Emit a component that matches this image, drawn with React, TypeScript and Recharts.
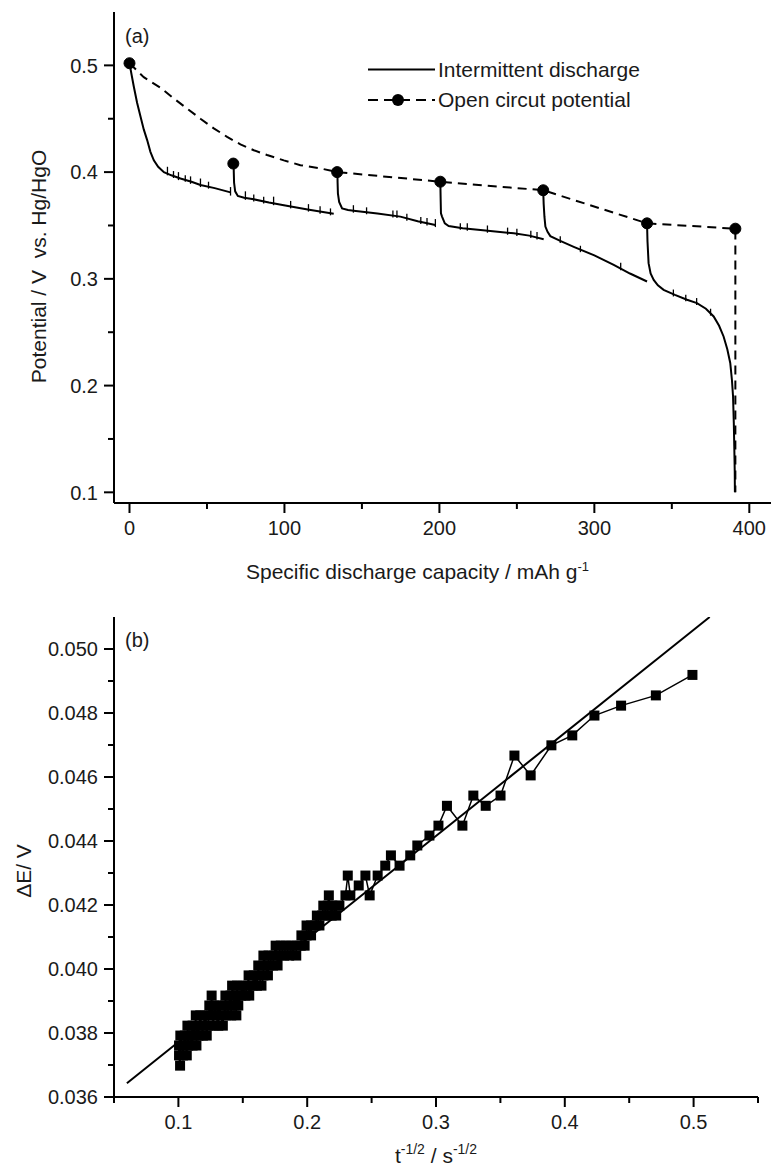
import React from 'react';
import { ComposedChart, Line, XAxis, YAxis, Label } from 'recharts';

const FONT = '"Liberation Sans", Arial, Helvetica, sans-serif';
const INK = '#1a1a1a';

// (a) intermittent discharge, [capacity mAh/g, potential V]
const dischargeSeg1 = [[0, 0.502], [1.5, 0.49], [2.8, 0.48], [4.9, 0.465], [7.1, 0.452], [9.2, 0.44], [11.4, 0.43], [13.5, 0.419], [15.7, 0.411], [18.5, 0.405], [22.2, 0.4], [27, 0.397], [32.9, 0.394], [40, 0.391], [45.8, 0.388], [55, 0.385], [65.2, 0.381]];
const dischargeSeg2 = [[67.2, 0.408], [67.3, 0.4], [67.5, 0.39], [68.2, 0.382], [69.9, 0.3776], [74, 0.376], [80.2, 0.3745], [90, 0.3715], [99.6, 0.369], [115, 0.365], [131.8, 0.361]];
const dischargeSeg3 = [[134.2, 0.4], [134.3, 0.39], [134.5, 0.38], [135.3, 0.372], [137.2, 0.366], [141, 0.3645], [144.7, 0.3638], [160, 0.3612], [174.8, 0.3583], [186, 0.354], [197.4, 0.3505]];
const dischargeSeg4 = [[200.6, 0.391], [200.8, 0.375], [201, 0.3614], [201.7, 0.3583], [203.5, 0.352], [206, 0.3495], [215, 0.3475], [226.5, 0.3458], [248, 0.3427], [258, 0.3405], [267.3, 0.3371]];
const dischargeSeg5 = [[267, 0.383], [267.3, 0.37], [267.8, 0.358], [268.4, 0.349], [269.8, 0.344], [271.6, 0.34], [278, 0.3355], [286.7, 0.33], [300, 0.322], [312.5, 0.313], [323, 0.305], [334, 0.2975]];
const dischargeSeg6 = [[334, 0.352], [334.3, 0.335], [335, 0.3147], [336.3, 0.305], [338.3, 0.299], [341, 0.294], [344.7, 0.2897], [352, 0.285], [359.8, 0.2804], [366.2, 0.2773], [372, 0.272], [377, 0.2648], [380.5, 0.256], [383.4, 0.246], [385.8, 0.234], [387.7, 0.2212], [388.8, 0.205], [389.5, 0.19], [390, 0.165], [390.3, 0.1433], [390.6, 0.12], [390.7, 0.1]];

// small noise spikes on the discharge trace: [capacity, low, high]
const dischargeSpikes = [
  [24.5, 0.397, 0.405], [28.4, 0.3945, 0.401], [31.6, 0.3925, 0.4], [36, 0.391, 0.397], [39.4, 0.389, 0.396],
  [45.8, 0.386, 0.394], [51, 0.3845, 0.391], [65.2, 0.378, 0.386],
  [74.8, 0.374, 0.382], [80.2, 0.3725, 0.379], [86.6, 0.3705, 0.377], [93, 0.369, 0.377], [104, 0.366, 0.373],
  [115.5, 0.363, 0.37], [123, 0.361, 0.368], [129.7, 0.3595, 0.366],
  [144.5, 0.362, 0.369], [153, 0.3605, 0.367], [170, 0.3575, 0.364], [172.6, 0.357, 0.364], [179, 0.3545, 0.361],
  [188, 0.3515, 0.358], [192, 0.35, 0.357], [197.4, 0.3485, 0.356],
  [213.5, 0.346, 0.352], [218, 0.345, 0.352], [231, 0.3432, 0.35], [244, 0.3413, 0.348], [250, 0.3402, 0.347],
  [259, 0.3382, 0.345], [263, 0.3368, 0.344],
  [278, 0.3335, 0.34], [291, 0.325, 0.331], [317, 0.308, 0.315],
  [351, 0.2835, 0.29], [359, 0.279, 0.285], [366, 0.2755, 0.282], [375, 0.2655, 0.272],
];

// open circuit potential markers and the dashed curve through them
const ocpPoints = [[0, 0.502], [67, 0.408], [134, 0.4], [200.6, 0.391], [267, 0.383], [334, 0.352], [391, 0.347]];
const ocpCurve = [[0, 0.502], [9.2, 0.489], [20, 0.479], [28.6, 0.469], [37.2, 0.4595], [45.8, 0.45], [54.4, 0.441], [63, 0.433], [71.6, 0.426], [80.2, 0.4205], [88.8, 0.416], [99.6, 0.411], [110.3, 0.4065], [123.2, 0.4035], [134, 0.4], [200.6, 0.391], [267, 0.383], [334, 0.352], [391, 0.347], [391, 0.1]];

const capTicks = [0, 50, 100, 150, 200, 250, 300, 350, 400];
const potTicks = [0.1, 0.15, 0.2, 0.25, 0.3, 0.35, 0.4, 0.45, 0.5];

// (b) dE vs t^-1/2 : y levels and the x positions read on each level
const dELevels = [0.03698, 0.0373, 0.03761, 0.03792, 0.03823, 0.03855, 0.03886, 0.03917, 0.03948, 0.0398, 0.04011, 0.04042, 0.04073, 0.04105, 0.04136, 0.04167, 0.04198, 0.0423, 0.04261, 0.04292, 0.04323, 0.04355, 0.04386, 0.04417, 0.04448, 0.0451, 0.04542, 0.04605, 0.04667, 0.04699, 0.0473, 0.04792, 0.04823, 0.04855, 0.04919];
const tLevelX = [
  [0.1013],
  [0.1005, 0.1035, 0.1065],
  [0.1005, 0.104, 0.1075, 0.111, 0.114],
  [0.1015, 0.105, 0.1085, 0.112, 0.1155, 0.119, 0.122],
  [0.107, 0.111, 0.115, 0.119, 0.123, 0.127, 0.131, 0.1345],
  [0.1135, 0.117, 0.121, 0.125, 0.129, 0.133, 0.137, 0.141, 0.145],
  [0.124, 0.128, 0.132, 0.136, 0.14, 0.1435, 0.1465],
  [0.1258, 0.1365, 0.1405, 0.1445, 0.1485, 0.152, 0.155],
  [0.1417, 0.1455, 0.1495, 0.1535, 0.1575, 0.161, 0.1645],
  [0.1545, 0.1585, 0.1625, 0.166, 0.1695],
  [0.162, 0.166, 0.17, 0.1735, 0.177],
  [0.166, 0.17, 0.174, 0.178, 0.182, 0.186, 0.1915],
  [0.1755, 0.1795, 0.1835, 0.1875, 0.1915, 0.195, 0.198],
  [0.1955, 0.1995, 0.203],
  [0.1995, 0.203, 0.2065, 0.2095],
  [0.2075, 0.2115, 0.2155, 0.219, 0.2225],
  [0.2125, 0.216, 0.2195, 0.2225, 0.225],
  [0.2168, 0.2297, 0.2335, 0.2485],
  [0.24],
  [0.2315, 0.2452, 0.2547],
  [0.2606, 0.2717],
  [0.265, 0.28],
  [0.2855],
  [0.2949],
  [0.3019, 0.3205],
  [0.3085, 0.3386],
  [0.329, 0.3501],
  [0.3735],
  [0.3609],
  [0.3896],
  [0.4058],
  [0.423],
  [0.4437],
  [0.4707],
  [0.4991],
];
const fitLine = [[0.06, 0.03643], [0.5125, 0.051]];

const tTicks = [0.05, 0.1, 0.15, 0.2, 0.25, 0.3, 0.35, 0.4, 0.45, 0.5, 0.55];
const dETicks = [0.036, 0.037, 0.038, 0.039, 0.04, 0.041, 0.042, 0.043, 0.044, 0.045, 0.046, 0.047, 0.048, 0.049, 0.05];

const rows = (pts: number[][], xk: string, yk: string) => pts.map(([a, b]) => ({ [xk]: a, [yk]: b }));

const gittRows = dELevels
  .flatMap((e, i) => tLevelX[i].map((t) => ({ t, e })))
  .sort((a, b) => a.t - b.t);

const onStep = (v: number, step: number) => Math.abs(v / step - Math.round(v / step)) < 1e-6;

const textStyle = { fontFamily: FONT, fill: INK };

function makeTick(side: 'left' | 'bottom', step: number, fmt: (v: number) => string) {
  return (props: any) => {
    const { x, y, payload } = props;
    const v = payload.value;
    const major = onStep(v, step);
    const len = major ? 10 : 6;
    if (side === 'left') {
      return (
        <g>
          <line x1={x - len} x2={x} y1={y} y2={y} stroke="#000" strokeWidth={2} />
          {major && (
            <text x={x - 16} y={y} dy="0.36em" textAnchor="end" fontSize={20} {...textStyle}>
              {fmt(v)}
            </text>
          )}
        </g>
      );
    }
    return (
      <g>
        <line x1={x} x2={x} y1={y} y2={y + len} stroke="#000" strokeWidth={2} />
        {major && (
          <text x={x} y={y + 32} textAnchor="middle" fontSize={20} {...textStyle}>
            {fmt(v)}
          </text>
        )}
      </g>
    );
  };
}

const SquareDot = (p: any) => (
  <rect key={`sq-${p.index}`} x={p.cx - 5} y={p.cy - 5} width={10} height={10} fill="#000" />
);

const AxisTitleA_X = (props: any) => {
  const { viewBox } = props;
  return (
    <text x={viewBox.x + viewBox.width / 2 - 25} y={viewBox.y + 76} textAnchor="middle" fontSize={21} {...textStyle}>
      Specific discharge capacity / mAh g
      <tspan dy={-8} fontSize={13}>-1</tspan>
    </text>
  );
};

const AxisTitleA_Y = (props: any) => {
  const { viewBox } = props;
  const cy = viewBox.y + viewBox.height / 2 + 9;
  return (
    <text x={46} y={cy} transform={`rotate(-90 46 ${cy})`} textAnchor="middle" fontSize={21} {...textStyle}>
      {'Potential / V\u00A0 vs. Hg/HgO'}
    </text>
  );
};

const AxisTitleB_X = (props: any) => {
  const { viewBox } = props;
  return (
    <text x={viewBox.x + viewBox.width / 2} y={viewBox.y + 66} textAnchor="middle" fontSize={21} {...textStyle}>
      t<tspan dy={-9} fontSize={14}>-1/2</tspan>
      <tspan dy={9}> / s</tspan>
      <tspan dy={-9} fontSize={14}>-1/2</tspan>
    </text>
  );
};

const AxisTitleB_Y = (props: any) => {
  const { viewBox } = props;
  const cy = viewBox.y + viewBox.height / 2 + 14;
  return (
    <text x={31} y={cy} transform={`rotate(-90 31 ${cy})`} textAnchor="middle" fontSize={21} {...textStyle}>
      ΔE/ V
    </text>
  );
};

const axisLine = { stroke: '#000', strokeWidth: 2 };

function PanelA() {
  const segs = [dischargeSeg1, dischargeSeg2, dischargeSeg3, dischargeSeg4, dischargeSeg5, dischargeSeg6];
  return (
    <ComposedChart width={771} height={595} margin={{ top: 12, right: 0, left: 0, bottom: 0 }}>
      <XAxis
        dataKey="c"
        type="number"
        domain={[-10, 414]}
        allowDataOverflow
        ticks={capTicks}
        interval={0}
        height={92}
        tickSize={0}
        tickMargin={0}
        tickLine={false}
        axisLine={axisLine}
        tick={makeTick('bottom', 100, (v) => String(v))}
      >
        <Label content={AxisTitleA_X} />
      </XAxis>
      <XAxis xAxisId="frame" orientation="top" type="number" domain={[-10, 414]} height={0} tick={false} tickLine={false} axisLine={axisLine} />
      <YAxis
        type="number"
        domain={[0.09, 0.55]}
        allowDataOverflow
        ticks={potTicks}
        interval={0}
        width={114}
        tickSize={0}
        tickMargin={0}
        tickLine={false}
        axisLine={axisLine}
        tick={makeTick('left', 0.1, (v) => v.toFixed(1))}
      >
        <Label content={AxisTitleA_Y} />
      </YAxis>
      {segs.map((s, i) => (
        <Line
          key={`seg${i}`}
          data={rows(s, 'c', 'v')}
          dataKey="v"
          type="linear"
          stroke="#000"
          strokeWidth={2}
          dot={false}
          activeDot={false}
          isAnimationActive={false}
        />
      ))}
      {dischargeSpikes.map(([c, lo, hi], i) => (
        <Line
          key={`spk${i}`}
          data={[{ c, v: lo }, { c, v: hi }]}
          dataKey="v"
          type="linear"
          stroke="#000"
          strokeWidth={1.3}
          dot={false}
          activeDot={false}
          isAnimationActive={false}
        />
      ))}
      <Line
        data={rows(ocpCurve, 'c', 'v')}
        dataKey="v"
        type="linear"
        stroke="#000"
        strokeWidth={2}
        strokeDasharray="9 6"
        dot={false}
        activeDot={false}
        isAnimationActive={false}
      />
      <Line
        data={rows(ocpPoints, 'c', 'v')}
        dataKey="v"
        stroke="none"
        dot={{ r: 5.5, fill: '#000', stroke: '#000', strokeWidth: 1 }}
        activeDot={false}
        isAnimationActive={false}
      />
    </ComposedChart>
  );
}

function PanelB() {
  return (
    <ComposedChart width={771} height={573} margin={{ top: 22, right: 13, left: 0, bottom: 0 }}>
      <XAxis
        dataKey="t"
        type="number"
        domain={[0.05, 0.55]}
        allowDataOverflow
        ticks={tTicks}
        interval={0}
        height={71}
        tickSize={0}
        tickMargin={0}
        tickLine={false}
        axisLine={axisLine}
        tick={makeTick('bottom', 0.1, (v) => v.toFixed(1))}
      >
        <Label content={AxisTitleB_X} />
      </XAxis>
      <XAxis xAxisId="frame" orientation="top" type="number" domain={[0.05, 0.55]} height={0} tick={false} tickLine={false} axisLine={axisLine} />
      <YAxis
        type="number"
        domain={[0.036, 0.051]}
        allowDataOverflow
        ticks={dETicks}
        interval={0}
        width={114}
        tickSize={0}
        tickMargin={0}
        tickLine={false}
        axisLine={axisLine}
        tick={makeTick('left', 0.002, (v) => v.toFixed(3))}
      >
        <Label content={AxisTitleB_Y} />
      </YAxis>
      <YAxis yAxisId="frame" orientation="right" type="number" domain={[0.036, 0.051]} width={0} tick={false} tickLine={false} axisLine={axisLine} />
      <Line
        data={rows(fitLine, 't', 'e')}
        dataKey="e"
        type="linear"
        stroke="#000"
        strokeWidth={2}
        dot={false}
        activeDot={false}
        isAnimationActive={false}
      />
      <Line
        data={gittRows}
        dataKey="e"
        type="linear"
        stroke="#000"
        strokeWidth={1.5}
        dot={SquareDot}
        activeDot={false}
        isAnimationActive={false}
      />
    </ComposedChart>
  );
}

function Overlay() {
  return (
    <svg width={771} height={1168} style={{ position: 'absolute', left: 0, top: 0, pointerEvents: 'none' }}>
      <text x={125} y={43} fontSize={20} {...textStyle}>(a)</text>
      <text x={125} y={647} fontSize={20} {...textStyle}>(b)</text>
      <line x1={368} x2={435} y1={69.5} y2={69.5} stroke="#000" strokeWidth={2} />
      <text x={438} y={77} fontSize={21} {...textStyle}>Intermittent discharge</text>
      <line x1={368} x2={435} y1={100} y2={100} stroke="#000" strokeWidth={2} strokeDasharray="10 6" />
      <circle cx={398} cy={100} r={6} fill="#000" />
      <text x={438} y={107} fontSize={21} {...textStyle}>Open circut potential</text>
    </svg>
  );
}

export default function App() {
  return (
    <div style={{ position: 'absolute', left: 0, top: 0, width: 771, height: 1168, background: '#fff' }}>
      <PanelA />
      <PanelB />
      <Overlay />
    </div>
  );
}
